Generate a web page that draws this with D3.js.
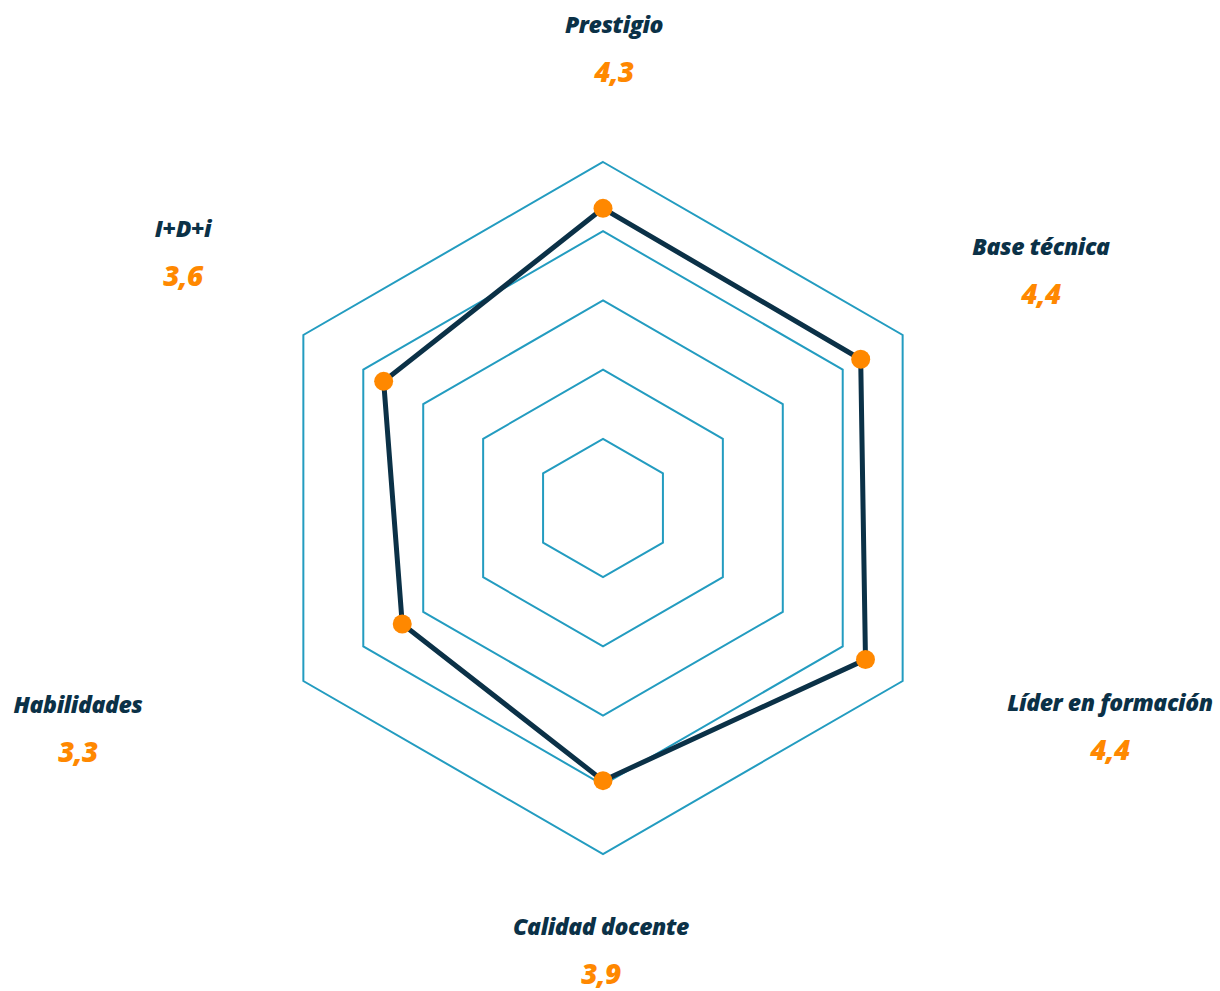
<!DOCTYPE html>
<html>
<head>
<meta charset="utf-8">
<script src="https://cdn.jsdelivr.net/npm/d3@7"></script>
<style>
  body { margin: 0; background: #fff; }
  svg { display: block; }
  text { font-family: "Open Sans", Lato, sans-serif; font-style: italic; font-weight: 800; }
</style>
</head>
<body>
<svg id="chart"></svg>
<script>
// data
const axes = ['Prestigio', 'Base técnica', 'Líder en formación', 'Calidad docente', 'Habilidades', 'I+D+i'];
const values = [4.33, 4.3, 4.38, 3.94, 3.35, 3.66];
const valueLabels = ['4,3', '4,4', '4,4', '3,9', '3,3', '3,6'];
const rings = [1, 2, 3, 4, 5];

// label centres (layout only)
const labelPos = [[614, 25], [1041, 247], [1110, 703], [601, 927], [78, 705], [183, 229]];

const width = 1220, height = 991;
const cx = 603, cy = 508;
const navy = '#0b3147', orange = '#ff8800', teal = '#239cc0';

const svg = d3.select('#chart').attr('width', width).attr('height', height);
const g = svg.append('g').attr('transform', `translate(${cx},${cy})`);

const r = d3.scaleLinear().domain([0, 5]).range([0, 346]);
const angle = i => (Math.PI * 2 * i) / axes.length;

const radial = d3.lineRadial()
    .angle((d, i) => angle(i))
    .radius(d => r(d))
    .curve(d3.curveLinearClosed);

g.selectAll('.ring')
    .data(rings)
    .enter()
    .append('path')
    .attr('class', 'ring')
    .attr('d', v => radial(axes.map(() => v)))
    .attr('fill', 'none')
    .attr('stroke', teal)
    .attr('stroke-width', 2);

g.append('path')
    .datum(values)
    .attr('d', radial)
    .attr('fill', 'none')
    .attr('stroke', navy)
    .attr('stroke-width', 5)
    .attr('stroke-linejoin', 'miter');

g.selectAll('.dot')
    .data(values)
    .enter()
    .append('circle')
    .attr('class', 'dot')
    .attr('cx', (d, i) => r(d) * Math.sin(angle(i)))
    .attr('cy', (d, i) => -r(d) * Math.cos(angle(i)))
    .attr('r', 9.5)
    .attr('fill', orange);

const labels = svg.selectAll('.lbl')
    .data(axes)
    .enter()
    .append('g')
    .attr('transform', (d, i) => `translate(${labelPos[i][0]},${labelPos[i][1]})`);

labels.append('text')
    .attr('text-anchor', 'middle')
    .attr('dy', '0.35em')
    .attr('font-size', 23)
    .attr('fill', navy)
    .attr('letter-spacing', -0.4)
    .text(d => d);

labels.append('text')
    .attr('text-anchor', 'middle')
    .attr('y', 47)
    .attr('dy', '0.35em')
    .attr('font-size', 28)
    .attr('fill', orange)
    .attr('letter-spacing', -0.5)
    .text((d, i) => valueLabels[i]);
</script>
</body>
</html>
